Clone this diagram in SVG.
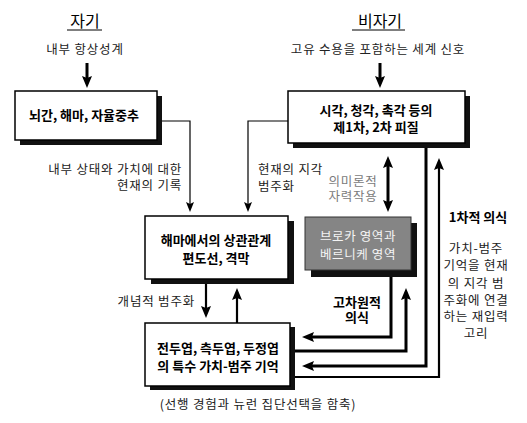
<svg xmlns="http://www.w3.org/2000/svg" width="527" height="423" viewBox="0 0 527 423">
<style>
text{font-family:"Noto Sans CJK KR","Noto Sans",sans-serif;}
.t{font-size:12.5px;fill:#222;letter-spacing:0.8px;}
.g{font-size:12.5px;fill:#7a7a7a;letter-spacing:0.8px;}
.b{font-size:13px;font-weight:bold;fill:#000;}
.h{font-size:16px;fill:#000;}
.w{font-size:12.5px;fill:#f4f4f4;letter-spacing:0.6px;}
.box{fill:#fff;stroke:#000;stroke-width:1.5;}
.sh{fill:#111;}
.thin{fill:none;stroke:#000;stroke-width:1.2;}
.thick{fill:none;stroke:#000;stroke-width:3;}
.mid{fill:none;stroke:#000;stroke-width:2.2;}
</style>
<defs>
<marker id="ab" markerUnits="userSpaceOnUse" markerWidth="12" markerHeight="10" viewBox="0 0 12 10" refX="3" refY="5" orient="auto-start-reverse"><path d="M0,0 L12,5 L0,10 L2,5 Z" fill="#000"/></marker>
<marker id="as" markerUnits="userSpaceOnUse" markerWidth="10" markerHeight="8" viewBox="0 0 10 8" refX="3" refY="4" orient="auto"><path d="M0,0 L10,4 L0,8 L2,4 Z" fill="#000"/></marker>
</defs>

<g id="titles">
<text class="h" x="85" y="27" text-anchor="middle">자기</text>
<line x1="67" y1="30" x2="102" y2="30" stroke="#000" stroke-width="1.2"/>
<text class="h" x="380" y="27" text-anchor="middle">비자기</text>
<line x1="352" y1="30" x2="405" y2="30" stroke="#000" stroke-width="1.2"/>
<text class="t" x="85" y="54" text-anchor="middle">내부 항상성계</text>
<text class="t" x="378" y="54" text-anchor="middle">고유 수용을 포함하는 세계 신호</text>
</g>

<g id="connectors">
<path class="thick" d="M87,63 V79" marker-end="url(#ab)"/>
<path class="thick" d="M380,63 V79" marker-end="url(#ab)"/>
<path class="thin" d="M162,121 H190 V205" marker-end="url(#as)"/>
<path class="thin" d="M288,121 H248 V205" marker-end="url(#as)"/>
<path class="thick" d="M388,165 V203" marker-start="url(#ab)" marker-end="url(#ab)"/>
<path class="mid" d="M206,283 V309" marker-end="url(#ab)"/>
<path class="mid" d="M237,323 V297" marker-end="url(#ab)"/>
<path class="thick" d="M391,277 V337 H311" marker-end="url(#ab)"/>
<path class="thick" d="M290,351 H406 V297" marker-end="url(#ab)"/>
<path class="thick" d="M426,143 V366 H311" marker-end="url(#ab)"/>
<path class="mid" d="M290,377 H439 V167" marker-end="url(#ab)"/>
</g>

<g id="labels">
<text class="t" x="182" y="174" text-anchor="end">내부 상태와 가치에 대한</text>
<text class="t" x="182" y="190" text-anchor="end">현재의 기록</text>
<text class="t" x="258" y="174">현재의 지각</text>
<text class="t" x="258" y="191">범주화</text>
<text class="g" x="353" y="186" text-anchor="middle">의미론적</text>
<text class="g" x="353" y="201" text-anchor="middle">자력작용</text>
<text class="b" x="478" y="222" text-anchor="middle">1차적 의식</text>
<text class="t" x="476" y="253" text-anchor="middle">가치-범주</text>
<text class="t" x="476" y="270" text-anchor="middle">기억을 현재</text>
<text class="t" x="476" y="288" text-anchor="middle">의 지각 범</text>
<text class="t" x="476" y="305" text-anchor="middle">주화에 연결</text>
<text class="t" x="476" y="321" text-anchor="middle">하는 재입력</text>
<text class="t" x="476" y="338" text-anchor="middle">고리</text>
<text class="t" x="195" y="306" text-anchor="end">개념적 범주화</text>
<text class="b" x="357" y="307" text-anchor="middle">고차원적</text>
<text class="b" x="357" y="322" text-anchor="middle">의식</text>
<text class="t" x="258" y="409" text-anchor="middle">(선행 경험과 뉴런 집단선택을 함축)</text>
</g>

<g id="brainstem">
<rect class="sh" x="20" y="96" width="142" height="49"/>
<rect class="box" x="15" y="91" width="142" height="49"/>
<text class="b" x="84" y="120" text-anchor="middle">뇌간, 해마, 자율중추</text>
</g>

<g id="cortex">
<rect class="sh" x="293" y="96" width="177" height="52"/>
<rect class="box" x="288" y="91" width="177" height="52"/>
<text class="b" x="376" y="115" text-anchor="middle">시각, 청각, 촉각 등의</text>
<text class="b" x="376" y="132" text-anchor="middle">제1차, 2차 피질</text>
</g>

<g id="hippocampus">
<rect class="sh" x="151" y="221" width="143" height="63"/>
<rect class="box" x="145" y="216" width="143" height="63"/>
<text class="b" x="216" y="245" text-anchor="middle">해마에서의 상관관계</text>
<text class="b" x="216" y="263" text-anchor="middle">편도선, 격막</text>
</g>

<g id="broca">
<rect class="sh" x="311" y="223" width="106" height="54"/>
<rect x="305" y="217" width="106" height="53" fill="#858585" stroke="#333" stroke-width="1"/>
<text class="w" x="358" y="241" text-anchor="middle">브로카 영역과</text>
<text class="w" x="358" y="259" text-anchor="middle">베르니케 영역</text>
</g>

<g id="memory">
<rect class="sh" x="150" y="327" width="145" height="63"/>
<rect class="box" x="145" y="323" width="145" height="63"/>
<text class="b" x="218" y="353" text-anchor="middle">전두엽, 측두엽, 두정엽</text>
<text class="b" x="218" y="371" text-anchor="middle">의 특수 가치-범주 기억</text>
</g>
</svg>
